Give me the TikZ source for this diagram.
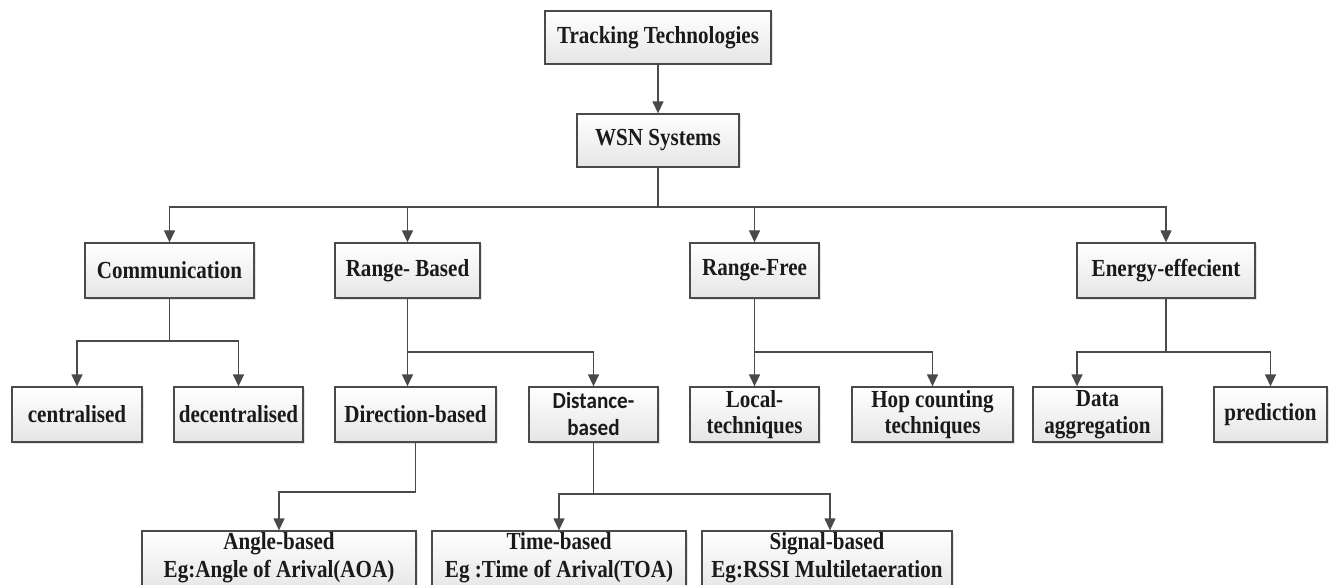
\documentclass[tikz,border=0pt]{standalone}
\usepackage{fontspec}
\setmainfont{Liberation Serif}[FakeStretch=0.86]
\newfontfamily\calfont{Carlito}[FakeStretch=0.92]
\usetikzlibrary{arrows.meta,shadows}
\definecolor{edge}{HTML}{4A4A4A}
\definecolor{ink}{HTML}{1A1A1A}
\begin{document}
\begin{tikzpicture}[x=1pt,y=-1pt,
  box/.style={draw=edge, line width=1.3pt, top color=white, bottom color=gray!20,
    drop shadow={shadow xshift=1.5pt,shadow yshift=-1.5pt,opacity=.22},
    inner sep=0pt, minimum height=55pt, text=ink, align=center,
    font=\fontsize{24.5}{26.5}\selectfont\bfseries},
  txt/.style={inner sep=0pt, text=ink, align=center, font=\fontsize{24.5}{28}\selectfont\bfseries},
  line/.style={draw=edge, line width=1.3pt},
  arr/.style={line, -{Triangle[length=12pt,width=11pt]}}]
\useasboundingbox (0,0) rectangle (1330,585);
\clip (0,0) rectangle (1330,585);
\fill[white] (0,0) rectangle (1330,585);

% nodes
\node[box, minimum width=226pt, minimum height=53pt] (tt) at (658,37.5) {Tracking Technologies};
\node[box, minimum width=162pt, minimum height=53pt] (wsn) at (658,140.5) {WSN Systems};
\node[box, minimum width=169pt] (comm) at (169.5,270.5) {Communication};
\node[box, minimum width=145pt] (rb) at (407.5,270.5) {Range- Based};
\node[box, minimum width=129pt] (rf) at (754.5,270.5) {Range-Free};
\node[box, minimum width=178pt] (ee) at (1166,270.5) {Energy-effecient};
\node[box, minimum width=130pt] (cen) at (77,414.5) {centralised};
\node[box, minimum width=129pt] (dec) at (238.5,414.5) {decentralised};
\node[box, minimum width=161pt] (dir) at (415.5,414.5) {Direction-based};
\node[box, minimum width=129pt, font=\fontsize{23}{27}\selectfont\calfont\bfseries] (dist) at (593.5,414.5) {Distance-\\based};
\node[box, minimum width=129pt] (loc) at (754.5,414.5) {Local-\\techniques};
\node[box, minimum width=161pt] (hop) at (932.5,414.5) {Hop counting\\techniques};
\node[box, minimum width=129pt] (data) at (1097.5,414.5) {Data\\aggregation};
\node[box, minimum width=113pt] (pred) at (1270.5,414.5) {prediction};

\node[box, minimum width=274pt, minimum height=60pt] (ang) at (279,561) {};
\node[txt] (angt) at (279,557.5) {Angle-based\\Eg:Angle of Arival(AOA)};
\node[box, minimum width=254pt, minimum height=60pt] (time) at (559,561) {};
\node[txt] (timet) at (559,557.5) {Time-based\\Eg :Time of Arival(TOA)};
\node[box, minimum width=250pt, minimum height=60pt] (sig) at (827,561) {};
\node[txt] (sigt) at (827,557.5) {Signal-based\\Eg:RSSI Multiletaeration};

% connectors
\draw[arr] (tt.south) -- (wsn.north);

\coordinate (b0) at (658,207);
\draw[line] (wsn.south) -- (b0);
\draw[arr] (b0) -| (comm.north);
\draw[arr] (b0) -| (rb.north);
\draw[arr] (b0) -| (rf.north);
\draw[arr] (b0) -| (ee.north);

\coordinate (b1) at (169.5,341);
\draw[line] (comm.south) -- (b1);
\draw[arr] (b1) -| (cen.north);
\draw[arr] (b1) -| (dec.north);

\coordinate (b2) at (407.5,352);
\draw[arr] (rb.south) -- (rb.south |- dir.north);
\draw[arr] (b2) -| (dist.north);

\coordinate (b3) at (415.5,492);
\draw[arr] (dir.south) -- (b3) -| (ang.north);

\coordinate (b4) at (593.5,494);
\draw[line] (dist.south) -- (b4);
\draw[arr] (b4) -| (time.north);
\draw[arr] (b4) -| ([xshift=3pt]sig.north);

\coordinate (b5) at (754.5,352);
\draw[arr] (rf.south) -- (loc.north);
\draw[arr] (b5) -| (hop.north);

\coordinate (b6) at (1166,352);
\draw[line] (ee.south) -- (b6);
\draw[arr] (b6) -| ([xshift=-20.5pt]data.north);
\draw[arr] (b6) -| (pred.north);
\end{tikzpicture}
\end{document}
